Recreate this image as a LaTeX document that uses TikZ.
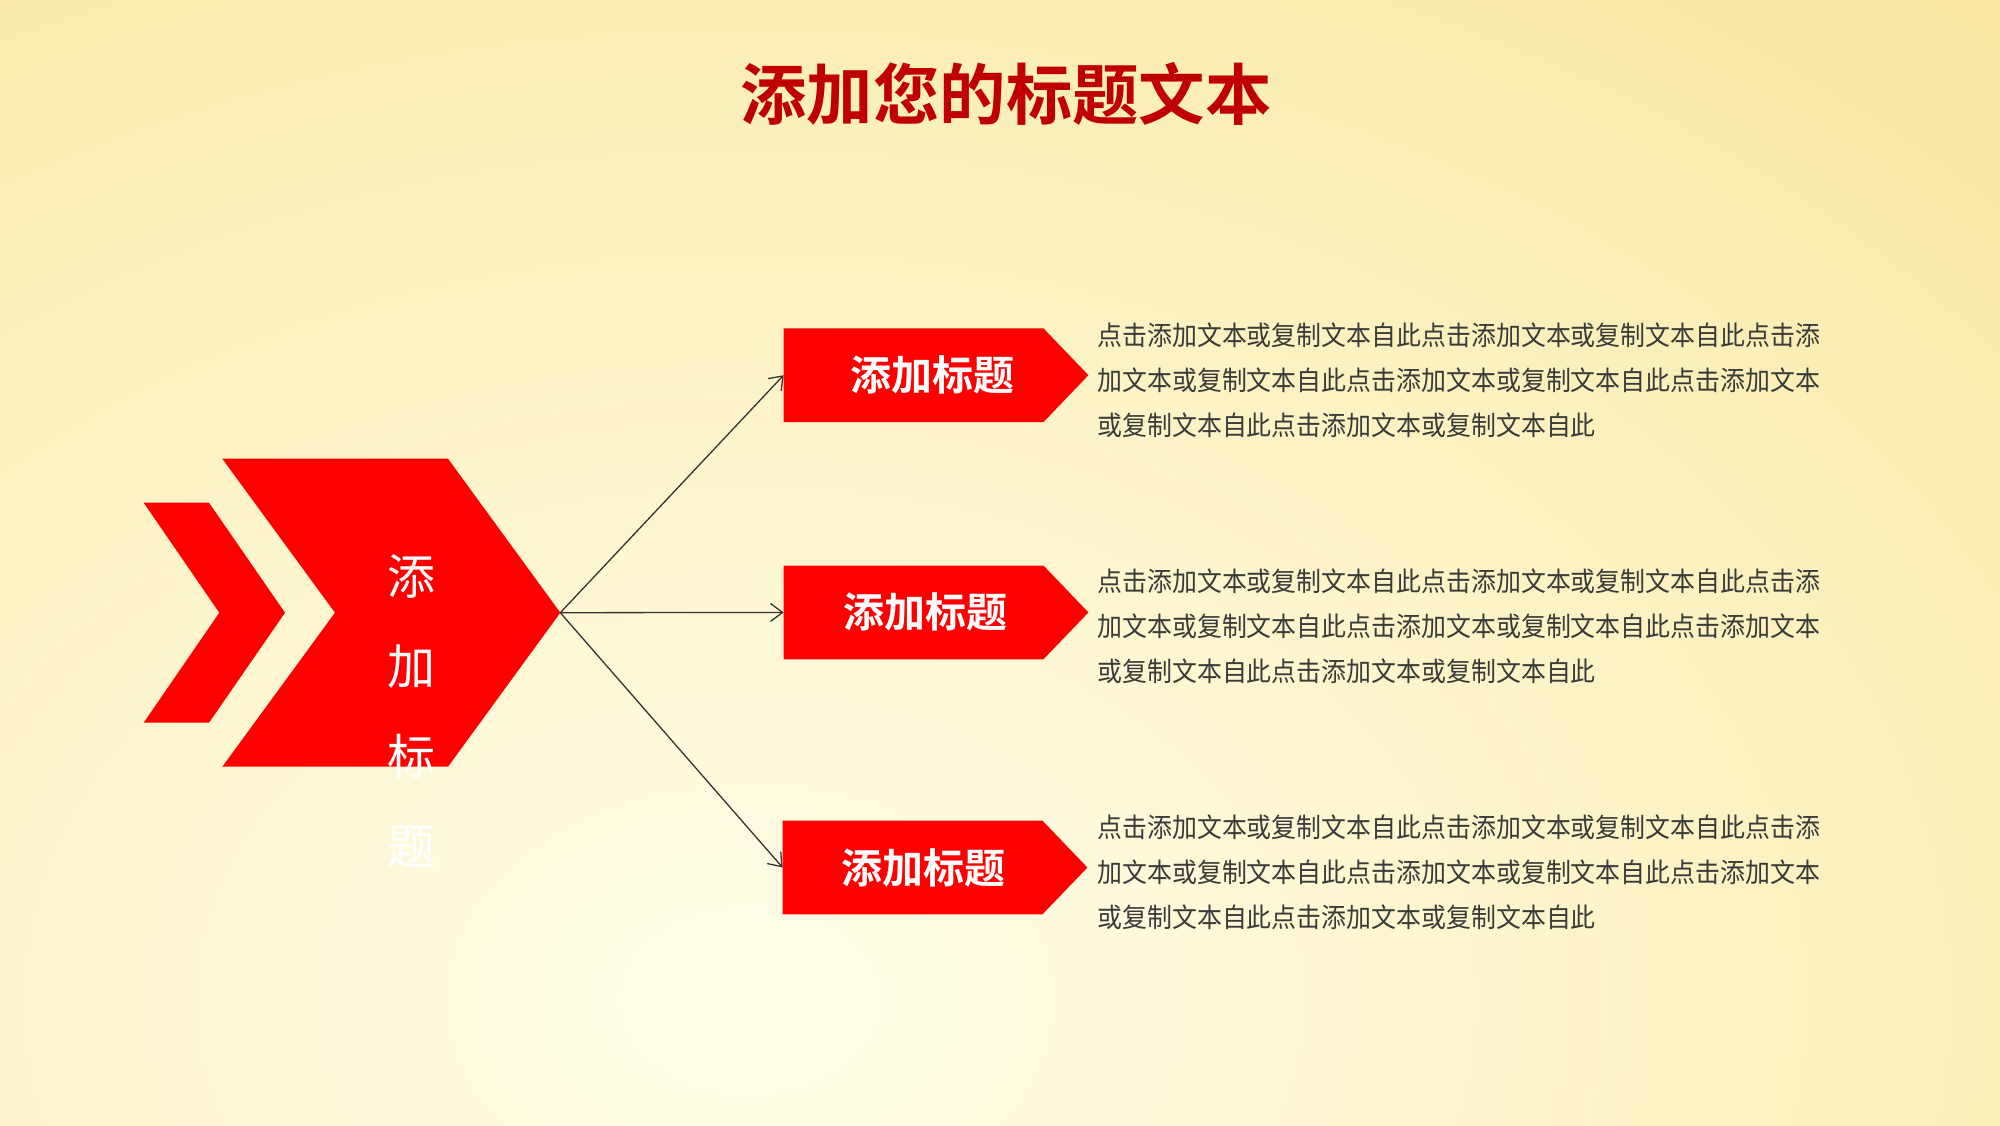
\documentclass[tikz,border=0pt]{standalone}
\usepackage{fontspec}
\newfontfamily\cjk{Noto Sans CJK SC}[BoldFont={Noto Sans CJK SC Bold}]
\newfontfamily\cjkc{Noto Sans CJK SC}[FakeStretch=0.93]
\usetikzlibrary{arrows.meta}
\definecolor{bgout}{HTML}{F8E28E}
\definecolor{bgin}{HTML}{FFFEEA}
\definecolor{shred}{HTML}{FF0000}
\definecolor{titred}{HTML}{C00000}
\definecolor{bodygray}{HTML}{3A3A3A}
\definecolor{linegray}{HTML}{333333}
\pgfdeclarelayer{back}
\pgfdeclarelayer{mid}
\pgfsetlayers{back,mid,main}
\tikzset{
  boxtext/.style={inner sep=0pt, minimum width=152pt, minimum height=46.5pt,
    text=white, font=\cjk\bfseries\fontsize{20.5}{20.5}\selectfont},
  bodytext/.style={anchor=west, inner sep=0pt, align=left, text=bodygray,
    font=\cjkc\fontsize{13.4}{22.5}\selectfont},
  conn/.style={draw=linegray, line width=0.65pt, -{Straight Barb[length=6pt,width=9pt]}},
  redfill/.style={fill=shred, draw=none}
}
\begin{document}
\begin{tikzpicture}[x=0.5pt,y=-0.5pt]
\useasboundingbox (0,0) rectangle (2000,1125);
\begin{pgfonlayer}{back}
  \fill[bgout] (0,0) rectangle (2000,1125);
  \begin{scope}
    \clip (0,0) rectangle (2000,1125);
    \shade[inner color=bgin, outer color=bgout] (750,1000) ellipse [x radius=2400, y radius=1700];
  \end{scope}
\end{pgfonlayer}

% title
\node[text=titred, font=\cjk\bfseries\fontsize{33.2}{33.2}\selectfont, inner sep=0pt] (title) at (1006,94) {添加您的标题文本};

% chevrons
\fill[redfill] (143.7,502.7) -- (209,502.7) -- (285,612.7) -- (209,722.7) -- (143.7,722.7) -- (219.3,612.7) -- cycle;
\fill[redfill] (222.3,458.7) -- (448,458.7) -- (560.3,612.7) -- (448,766.7) -- (222.3,766.7) -- (335,612.7) -- cycle;
\coordinate (tip) at (560.3,612.7);
\node[text=white, align=center, inner sep=0pt, font=\cjk\fontsize{24}{45}\selectfont] (vt) at (411.7,711.7) {添\\加\\标\\题};

% boxes
\node[boxtext] (b1) at (936,375.2) {\hspace*{-4pt}添加标题};
\node[boxtext] (b2) at (936,612.4) {\hspace*{-11pt}添加标题};
\node[boxtext] (b3) at (935,867.5) {\hspace*{-12pt}添加标题};
\begin{pgfonlayer}{mid}
  \foreach \b in {b1,b2,b3}{
    \fill[redfill] (\b.north west) -- ([xshift=-22.5pt]\b.north east) -- (\b.east)
      -- ([xshift=-22.5pt]\b.south east) -- (\b.south west) -- cycle;
  }
\end{pgfonlayer}

% connectors
\draw[conn] (tip) -- (b1.west);
\draw[conn] (tip) -- (b2.west);
\draw[conn] (tip) -- (b3.west);

% body text
\node[bodytext] (t1) at (1097,380) {点击添加文本或复制文本自此点击添加文本或复制文本自此点击添\\加文本或复制文本自此点击添加文本或复制文本自此点击添加文本\\或复制文本自此点击添加文本或复制文本自此};
\node[bodytext] (t2) at (1097,626) {点击添加文本或复制文本自此点击添加文本或复制文本自此点击添\\加文本或复制文本自此点击添加文本或复制文本自此点击添加文本\\或复制文本自此点击添加文本或复制文本自此};
\node[bodytext] (t3) at (1097,872.4) {点击添加文本或复制文本自此点击添加文本或复制文本自此点击添\\加文本或复制文本自此点击添加文本或复制文本自此点击添加文本\\或复制文本自此点击添加文本或复制文本自此};
\end{tikzpicture}
\end{document}
